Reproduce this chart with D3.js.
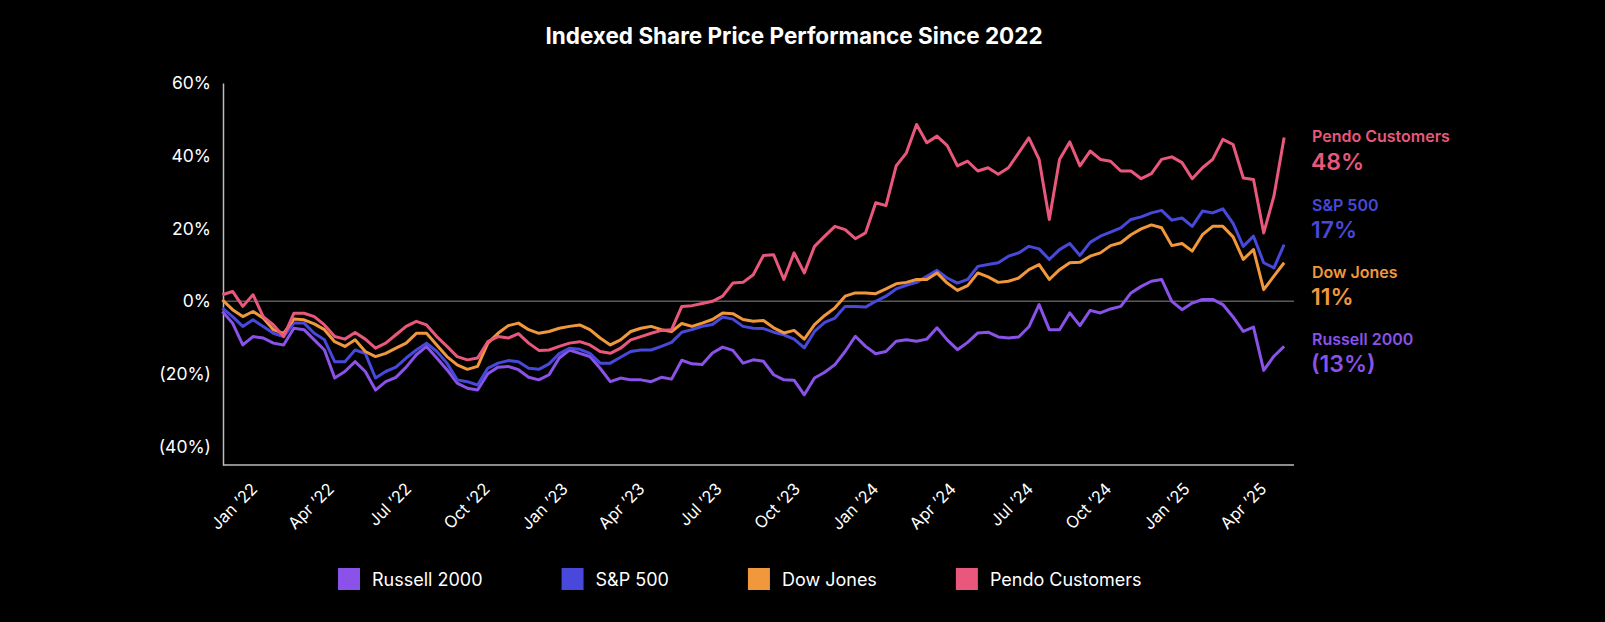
<!DOCTYPE html>
<html>
	<head>
		<meta charset="utf-8">
		<title>Indexed Share Price Performance Since 2022</title>
		<script src="https://d3js.org/d3.v7.min.js"></script>
		<style>
			body { margin: 0; background: #000; }
			svg { display: block; font-family: Inter, "Noto Sans", sans-serif; }
		</style>
	</head>
	<body>
		<script>
			var w = 1605;
			var h = 622;

			// series, every 12 days (% change vs. start)
			var seriesNames = ["Russell 2000", "S&P 500", "Dow Jones", "Pendo Customers"];
			var seriesColors = ["#8a52e8", "#4848da", "#f2983c", "#e9587c"];
			var endLabels = ["(13%)", "17%", "11%", "48%"];

			var russell = [
				-2.8, -6.0, -12.0, -9.7, -10.1, -11.5, -12.0, -7.4, -7.8, -10.6,
				-13.4, -21.1, -19.3, -16.6, -19.3, -24.4, -22.1, -20.9, -18.1, -14.7,
				-12.4, -15.6, -18.8, -22.5, -23.9, -24.4, -19.9, -18.1, -17.9, -18.8,
				-20.9, -21.6, -20.2, -15.6, -13.4, -14.3, -15.2, -18.4, -22.1, -21.1,
				-21.6, -21.6, -22.1, -20.9, -21.4, -16.2, -17.2, -17.4, -14.2, -12.6,
				-13.5, -17.0, -16.1, -16.5, -20.2, -21.6, -21.7, -25.7, -21.1, -19.5,
				-17.4, -13.8, -9.6, -12.4, -14.4, -13.8, -11.0, -10.6, -11.0, -10.4,
				-7.3, -10.6, -13.3, -11.3, -8.7, -8.5, -9.8, -10.1, -9.8, -7.0,
				-0.9, -7.8, -7.8, -3.2, -6.7, -2.5, -3.2, -2.1, -1.4, 2.3,
				4.1, 5.5, 6.0, 0.0, -2.3, -0.5, 0.5, 0.5, -0.9, -4.3,
				-8.3, -7.1, -19.0, -15.1, -12.4
			];
			var sp500 = [
				-1.9, -4.2, -6.9, -5.1, -6.9, -8.8, -9.7, -6.0, -6.0, -8.8,
				-10.6, -16.6, -16.6, -13.4, -14.3, -21.1, -19.3, -18.1, -15.6, -13.4,
				-11.5, -13.8, -17.0, -21.6, -22.1, -23.0, -18.4, -17.0, -16.3, -16.6,
				-18.4, -18.7, -17.2, -14.4, -12.9, -13.2, -14.3, -17.0, -17.0, -15.4,
				-13.8, -13.4, -13.4, -12.4, -11.3, -8.5, -7.8, -6.9, -6.4, -4.3,
				-4.9, -6.9, -7.4, -7.5, -8.5, -9.2, -10.4, -12.8, -8.3, -5.8,
				-4.6, -1.4, -1.4, -1.6, 0.0, 1.4, 3.4, 4.4, 5.2, 6.9,
				8.5, 6.4, 5.0, 6.0, 9.6, 10.1, 10.6, 12.4, 13.3, 15.1,
				14.4, 11.5, 14.2, 15.9, 12.6, 16.2, 17.9, 19.0, 20.2, 22.5,
				23.2, 24.3, 25.0, 22.3, 22.9, 20.6, 24.8, 24.3, 25.4, 21.4,
				15.1, 17.9, 10.6, 9.2, 15.6
			];
			var dow = [
				0.4, -2.3, -4.2, -2.8, -4.6, -7.8, -8.8, -4.9, -5.1, -6.2,
				-7.8, -11.1, -12.4, -10.6, -13.8, -15.2, -14.3, -12.9, -11.5, -8.8,
				-8.8, -12.0, -15.2, -17.5, -18.7, -17.9, -11.5, -8.8, -6.7, -6.0,
				-7.8, -8.8, -8.3, -7.4, -6.9, -6.5, -7.8, -10.1, -12.0, -10.6,
				-8.3, -7.4, -6.9, -7.8, -8.3, -6.1, -6.9, -6.0, -5.0, -3.2,
				-3.4, -5.0, -5.5, -5.3, -7.3, -8.7, -8.0, -10.4, -6.4, -3.9,
				-1.8, 1.4, 2.3, 2.3, 2.1, 3.4, 4.8, 5.2, 6.0, 6.0,
				7.8, 5.0, 3.0, 4.3, 7.8, 6.7, 5.2, 5.5, 6.4, 8.7,
				10.1, 6.0, 8.7, 10.6, 10.7, 12.4, 13.3, 15.3, 16.1, 18.3,
				19.9, 21.0, 20.2, 15.3, 15.9, 13.8, 18.3, 20.6, 20.6, 17.7,
				11.5, 14.2, 3.2, 6.9, 10.6
			];
			var pendo = [
				1.8, 2.7, -1.4, 1.8, -4.2, -6.5, -9.7, -3.3, -3.3, -4.2,
				-6.5, -9.7, -10.4, -8.6, -10.4, -12.9, -11.5, -9.2, -6.9, -5.5,
				-6.5, -9.7, -12.4, -15.2, -16.1, -15.6, -11.1, -9.7, -10.1, -8.9,
				-11.5, -13.5, -13.4, -12.4, -11.5, -11.1, -12.0, -13.8, -14.3, -12.9,
				-10.6, -9.7, -8.8, -8.0, -7.8, -1.4, -1.2, -0.6, 0.0, 1.4,
				5.0, 5.2, 7.3, 12.6, 12.8, 6.0, 13.3, 7.8, 15.1, 17.9,
				20.6, 19.7, 17.2, 18.8, 27.1, 26.3, 37.2, 40.8, 48.6, 43.6,
				45.4, 42.8, 37.2, 38.5, 35.8, 36.7, 34.9, 36.7, 40.8, 44.9,
				39.0, 22.5, 39.0, 43.8, 37.2, 41.3, 39.0, 38.5, 35.8, 35.8,
				33.7, 35.1, 39.0, 39.7, 38.1, 33.7, 36.7, 39.0, 44.5, 43.1,
				33.9, 33.5, 18.8, 28.9, 45.0
			];

			var startDate = new Date(2021, 10, 26);
			var stepDays = 12;
			var yTicks = [-40, -20, 0, 20, 40, 60];

			var allSeries = [russell, sp500, dow, pendo];
			var dates = russell.map(function(d, i) { return d3.timeDay.offset(startDate, i * stepDays); });

			var plotLeft = 223, plotRight = 1294, plotTop = 83, plotBottom = 465;

			var xScale = d3.scaleTime()
				.domain([new Date(2022, 0, 1), new Date(2025, 3, 1)])
				.range([253, 1262]);

			var yScale = d3.scaleLinear()
				.domain([-45, 60])
				.range([plotBottom, plotTop]);

			var svg = d3.select("body")
						.append("svg")
						.attr("width", w)
						.attr("height", h);

			svg.append("rect").attr("width", w).attr("height", h).attr("fill", "#000");

			svg.append("text")
				.attr("x", 794)
				.attr("y", 44)
				.attr("text-anchor", "middle")
				.attr("fill", "#fff")
				.style("font-size", "22.5px")
				.style("font-weight", 700)
				.text("Indexed Share Price Performance Since 2022");

			// zero line
			svg.append("line")
				.attr("x1", plotLeft).attr("x2", plotRight)
				.attr("y1", yScale(0)).attr("y2", yScale(0))
				.attr("stroke", "#5a5a5a")
				.attr("stroke-width", 1.5);

			// y axis
			var yAxis = d3.axisLeft(yScale)
				.tickValues(yTicks)
				.tickSize(0)
				.tickPadding(12)
				.tickFormat(function(d) { return d < 0 ? "(" + (-d) + "%)" : d + "%"; });

			var yg = svg.append("g")
				.attr("transform", "translate(" + plotLeft + ",0)")
				.call(yAxis);
			yg.select(".domain").attr("stroke", "#bdbdbd").attr("stroke-width", 1.5);
			yg.selectAll("text").attr("fill", "#fff").style("font-size", "17.5px").style("font-family", "Inter");

			// x axis
			var xAxis = d3.axisBottom(xScale)
				.tickValues(d3.timeMonth.every(3).range(new Date(2022, 0, 1), new Date(2025, 3, 2)))
				.tickSize(0)
				.tickFormat(d3.timeFormat("%b \u2019%y"));

			var xg = svg.append("g")
				.attr("transform", "translate(0," + plotBottom + ")")
				.call(xAxis);
			xg.select(".domain").remove();
			xg.selectAll("text")
				.attr("y", null)
				.attr("dy", null)
				.attr("transform", "translate(5,25) rotate(-45)")
				.style("text-anchor", "end")
				.style("font-size", "16.5px")
				.style("font-family", "Inter")
				.attr("fill", "#fff");

			svg.append("line")
				.attr("x1", plotLeft).attr("x2", plotRight)
				.attr("y1", plotBottom).attr("y2", plotBottom)
				.attr("stroke", "#bdbdbd")
				.attr("stroke-width", 1.5);

			// lines
			var line = d3.line()
				.x(function(d, i) { return xScale(dates[i]); })
				.y(function(d) { return yScale(d); });

			var drawOrder = [0, 1, 2, 3];
			drawOrder.forEach(function(k) {
				svg.append("path")
					.datum(allSeries[k])
					.attr("fill", "none")
					.attr("stroke", seriesColors[k])
					.attr("stroke-width", 3)
					.attr("stroke-linejoin", "round")
					.attr("d", line);
			});

			// end labels (top to bottom: Pendo, S&P, Dow, Russell)
			var labelOrder = [3, 1, 2, 0];
			var nameY = [142, 211, 278, 345];
			var valueY = [170, 238, 305, 372];
			labelOrder.forEach(function(k, j) {
				svg.append("text")
					.attr("x", 1312).attr("y", nameY[j])
					.attr("fill", seriesColors[k])
					.style("font-size", "16px")
					.style("font-weight", 600)
					.text(seriesNames[k]);
				svg.append("text")
					.attr("x", 1311).attr("y", valueY[j])
					.attr("fill", seriesColors[k])
					.style("font-size", "23px")
					.style("font-weight", 600)
					.text(endLabels[k]);
			});

			// legend
			var lx = 338;
			seriesNames.forEach(function(name, k) {
				var g = svg.append("g").attr("transform", "translate(" + lx + ",568)");
				g.append("rect")
					.attr("width", 22).attr("height", 22)
					.attr("fill", seriesColors[k]);
				var t = g.append("text")
					.attr("x", 34).attr("y", 17.5)
					.attr("fill", "#fff")
					.style("font-size", "18px")
					.text(name);
				lx += 34 + t.node().getComputedTextLength() + 79;
			});
		</script>
	</body>
</html>
